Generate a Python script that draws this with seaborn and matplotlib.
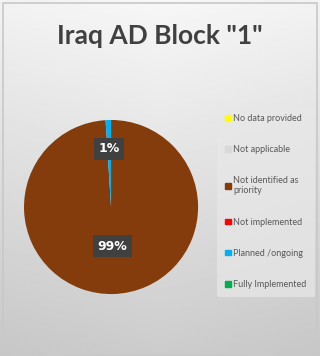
import numpy as np
import matplotlib
matplotlib.use("Agg")
import matplotlib.pyplot as plt
import matplotlib.patches as mpatches
import seaborn as sns

sns.set_theme(style="white")
plt.rcParams['font.family'] = ['Lato', 'DejaVu Sans']

# data
categories = ['No data provided', 'Not applicable', 'Not identified as\npriority',
              'Not implemented', 'Planned /ongoing', 'Fully Implemented']
shares = [0, 0, 99, 0, 1, 0]
colors = ['#FFFF00', '#D9D9D9', '#843C0C', '#FF0000', '#00B0F0', '#00B050']
title = 'Iraq AD Block "1"'

fig = plt.figure(figsize=(3.2, 3.56), dpi=100)

# background gradient (light at top, grey at bottom)
bg = fig.add_axes([0, 0, 1, 1], zorder=-10)
yy, xx = np.mgrid[0:1:200j, 0:1:200j]
shade = 0.97 - 0.17 * yy - 0.04 * np.abs(xx - 0.5)
bg.imshow(shade, cmap='gray', vmin=0, vmax=1, aspect='auto', extent=[0, 1, 0, 1])
bg.add_patch(mpatches.Rectangle((0.008, 0.004), 0.984, 0.988, fill=False,
                                ec='#c8c8c8', lw=1.2, transform=bg.transAxes))
bg.set_xlim(0, 1)
bg.set_ylim(0, 1)
bg.axis('off')

fig.text(0.5, 0.898, title, ha='center', va='center', fontsize=19,
         fontweight='bold', color='#404040')

ax = fig.add_axes([0.075, 0.174, 0.544, 0.489])
wedges, texts, autotexts = ax.pie(
    shares, colors=colors, startangle=90, counterclock=False,
    autopct=lambda p: f'{p:.0f}%' if p > 0 else '', pctdistance=0.6,
    wedgeprops=dict(linewidth=0))
ax.set_xlim(-1, 1)
ax.set_ylim(-1, 1)
ax.set_aspect('equal')

# label distances from centre for the two visible slices
label_dist = {2: 0.45, 4: 0.67}
for i, (w, t) in enumerate(zip(wedges, autotexts)):
    if shares[i] == 0:
        continue
    ang = np.deg2rad((w.theta1 + w.theta2) / 2)
    d = label_dist[i]
    t.set_position((d * np.cos(ang), d * np.sin(ang)))
    t.set_color('white')
    t.set_fontweight('bold')
    t.set_fontsize(9)
    t.set_fontfamily('DejaVu Sans')
    t.set_bbox(dict(boxstyle='square,pad=0.35', fc='#404040', ec='none'))

handles = [mpatches.Patch(color=c) for c in colors]
leg = fig.legend(handles, categories, loc='upper left',
                 bbox_to_anchor=(0.678, 0.703), fontsize=6.5,
                 frameon=True, labelspacing=2.45, handlelength=0.6,
                 handleheight=0.6, handletextpad=0.3, borderpad=0.9,
                 borderaxespad=0)
leg.get_frame().set_facecolor('#e8e8e8')
leg.get_frame().set_edgecolor('none')
leg.get_frame().set_alpha(0.7)
for t in leg.get_texts():
    t.set_color('#595959')

fig.savefig('out.png', dpi=100)
